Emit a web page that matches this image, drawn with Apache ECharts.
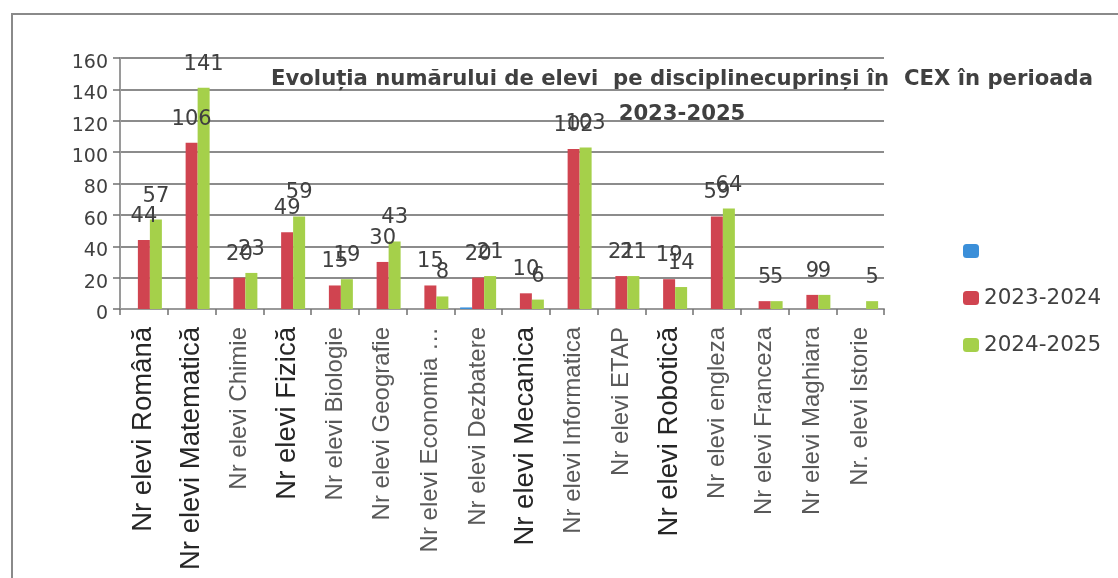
<!DOCTYPE html>
<html>
<head>
<meta charset="utf-8">
<script src="https://cdn.jsdelivr.net/npm/echarts@6/dist/echarts.min.js"></script>
<style>html,body{margin:0;padding:0;background:#fff;}#c{width:1118px;height:578px;}</style>
</head>
<body>
<div id="c"></div>
<script>
var categories = ["Nr elevi Română","Nr elevi Matematică","Nr elevi Chimie","Nr elevi Fizică","Nr elevi Biologie","Nr elevi Geografie","Nr elevi Economia …","Nr elevi Dezbatere","Nr elevi Mecanica","Nr elevi Informatica","Nr elevi ETAP","Nr elevi Robotică","Nr elevi engleza","Nr elevi Franceza","Nr elevi Maghiara","Nr. elevi Istorie"];
var seriesBlue = [null,null,null,null,null,null,null,1,null,null,null,null,null,null,null,null];
var series2023 = [44,106,20,49,15,30,15,20,10,102,21,19,59,5,9,null];
var series2024 = [57,141,23,59,19,43,8,21,6,103,21,14,64,5,9,5];
var yTicks = [0,20,40,60,80,100,120,140,160];

var emphasized = {"Nr elevi Română":1,"Nr elevi Matematică":1,"Nr elevi Fizică":1,"Nr elevi Mecanica":1,"Nr elevi Robotică":1};

var chart = echarts.init(document.getElementById('c'));
var labelStyle = {show:true, position:'top', distance:13, fontFamily:'DejaVu Sans', fontSize:21, color:'#404040'};
chart.setOption({
  animation:false,
  textStyle:{fontFamily:'Liberation Sans'},
  graphic:[{type:'rect', shape:{x:12,y:14,width:1130,height:600}, style:{fill:'none', stroke:'#8a8a8a', lineWidth:2}, z:-10}],
  title:{
    text:'Evoluția numărului de elevi  pe disciplinecuprinși în  CEX în perioada\n2023-2025',
    left:677, top:57, textAlign:'center',
    textStyle:{fontFamily:'DejaVu Sans', fontWeight:'bold', fontSize:21.2, lineHeight:35, color:'#404040'}
  },
  legend:{
    orient:'vertical', left:963, top:240, padding:0, itemWidth:16, itemHeight:14, itemGap:25,
    textStyle:{fontFamily:'DejaVu Sans', fontSize:21.5, lineHeight:22, color:'#404040'},
    data:[' ','2023-2024','2024-2025']
  },
  grid:{left:120, top:58, width:764, height:251},
  xAxis:{
    type:'category', data:categories,
    axisLine:{lineStyle:{color:'#9a9a9a', width:2}},
    axisTick:{show:true, length:6, lineStyle:{color:'#707070', width:1.5}},
    axisLabel:{
      rotate:90, margin:18, interval:0,
      formatter:function(v){ return emphasized[v] ? '{b|'+v+'}' : '{n|'+v+'}'; },
      rich:{
        b:{fontFamily:'Liberation Sans', fontSize:27.5, color:'#262626'},
        n:{fontFamily:'Liberation Sans', fontSize:24, color:'#595959'}
      }
    }
  },
  yAxis:{
    type:'value', min:yTicks[0], max:yTicks[yTicks.length-1], interval:yTicks[1]-yTicks[0],
    axisLine:{show:true, lineStyle:{color:'#9a9a9a', width:2}},
    axisTick:{show:true, length:7, lineStyle:{color:'#707070', width:1.5}},
    axisLabel:{fontFamily:'DejaVu Sans', fontSize:19, color:'#404040', margin:12, verticalAlign:'top', lineHeight:10},
    splitLine:{lineStyle:{color:'#8c8c8c', width:2}}
  },
  series:[
    {name:' ', type:'bar', data:seriesBlue, barWidth:12, barGap:'0%', itemStyle:{color:'#3b8fd9'}, label:{show:false}},
    {name:'2023-2024', type:'bar', data:series2023, barWidth:12, barGap:'0%', itemStyle:{color:'#d04450'}, label:labelStyle},
    {name:'2024-2025', type:'bar', data:series2024, barWidth:12, barGap:'0%', itemStyle:{color:'#a5d04a'}, label:labelStyle}
  ]
});
</script>
</body>
</html>
